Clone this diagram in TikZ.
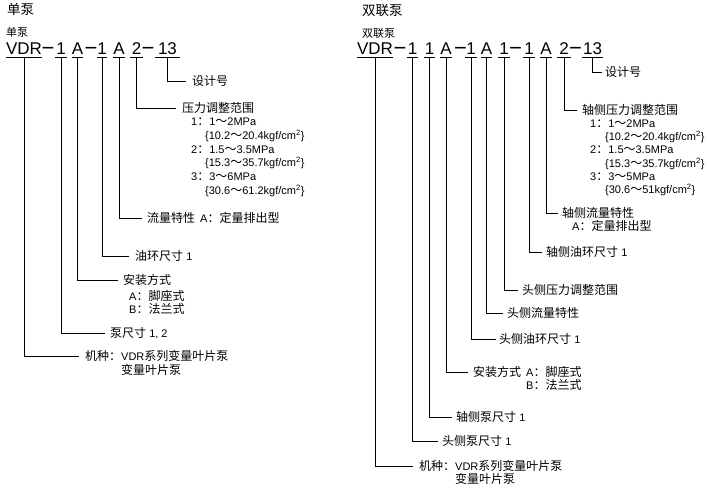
\documentclass[tikz,border=0pt]{standalone}
\usepackage{fontspec}
\setmainfont{Liberation Sans}
\newfontfamily\cjk{Noto Sans CJK SC}
\newcommand\zh[1]{{\fontsize{12}{14}\selectfont\cjk #1}}
\newcommand\zwv{{\fontsize{12}{14}\selectfont\cjk ～}}
\newcommand\zcl{{\fontsize{12}{14}\selectfont\cjk ：}}
\begin{document}
\begin{tikzpicture}[x=1pt,y=-1pt,
  fld/.style={font=\fontsize{17}{17}\selectfont, anchor=south, inner xsep=0pt, inner ysep=3pt, text height=12.2pt, text depth=0pt},
  dsh/.style={font=\fontsize{22}{22}\selectfont, anchor=base, inner sep=0pt},
  lbl/.style={font=\fontsize{11}{14}\selectfont, anchor=west, inner sep=0pt},
  ttl/.style={font=\fontsize{13.5}{14}\selectfont\cjk, anchor=west, inner sep=0pt},
  sml/.style={font=\fontsize{11}{12}\selectfont\cjk, anchor=west, inner sep=0pt},
  conn/.style={line width=0.8pt},
  uline/.style={line width=0.8pt}]
\useasboundingbox (0,0) rectangle (709,489);

% ---------------- single pump ----------------
\node[ttl] (t1) at (7,9) {单泵};
\node[sml] (s1) at (6,32) {单泵};

\node[fld, minimum width=36pt] (a0) at (24,57.5) {VDR};
\node[dsh] (ad1) at (48,55.5) {−};
\node[fld, minimum width=12pt] (a1) at (61,57.5) {1};
\node[fld, minimum width=11pt] (a2) at (77.5,57.5) {A};
\node[dsh] (ad2) at (91,55.5) {−};
\node[fld, minimum width=10pt] (a3) at (102,57.5) {1};
\node[fld, minimum width=12pt] (a4) at (119,57.5) {A};
\node[fld, minimum width=13pt] (a5) at (136.5,57.5) {2};
\node[dsh] (ad3) at (148,55.5) {−};
\node[fld, minimum width=25pt] (a6) at (167.5,57.5) {13};
\foreach \n in {a0,a1,a2,a3,a4,a5,a6}
  \draw[uline] (\n.south west) -- (\n.south east);

\node[lbl] (la6) at (192,81) {\zh{设计号}};
\node[lbl] (la5) at (182,108) {\zh{压力调整范围}};
\node[lbl] (la5a) at (191,121.8) {1\zcl 1\zwv 2MPa};
\node[lbl] (la5b) at (205,135.6) {\{10.2\zwv 20.4kgf/cm\textsuperscript{2}\}};
\node[lbl] (la5c) at (191,149.4) {2\zcl 1.5\zwv 3.5MPa};
\node[lbl] (la5d) at (205,163.2) {\{15.3\zwv 35.7kgf/cm\textsuperscript{2}\}};
\node[lbl] (la5e) at (191,177) {3\zcl 3\zwv 6MPa};
\node[lbl] (la5f) at (205,190.8) {\{30.6\zwv 61.2kgf/cm\textsuperscript{2}\}};
\node[lbl] (la4) at (147,218) {\zh{流量特性}\hspace{5pt}A\zcl\zh{定量排出型}};
\node[lbl] (la3) at (135,256) {\zh{油环尺寸} 1};
\node[lbl] (la2) at (123,280) {\zh{安装方式}};
\node[lbl] (la2a) at (129,296) {A\zcl\zh{脚座式}};
\node[lbl] (la2b) at (129,308.5) {B\zcl\zh{法兰式}};
\node[lbl] (la1) at (110,333) {\zh{泵尺寸} 1, 2};
\node[lbl] (la0) at (85,356) {\zh{机种}\zcl VDR\zh{系列变量叶片泵}};
\node[lbl] (la0a) at (121,370) {\zh{变量叶片泵}};

\draw[conn] (a6.south) |- ([xshift=-6pt]la6.west);
\draw[conn] (a5.south) |- ([xshift=-6pt]la5.west);
\draw[conn] (a4.south) |- ([xshift=-5pt]la4.west);
\draw[conn] (a3.south) |- ([xshift=-6pt]la3.west);
\draw[conn] (a2.south) |- ([xshift=-5pt]la2.west);
\draw[conn] (a1.south) |- ([xshift=-5pt]la1.west);
\draw[conn] (a0.south) |- ([xshift=-6pt]la0.west);

% ---------------- double pump ----------------
\node[ttl] (t2) at (362,10.5) {双联泵};
\node[sml] (s2) at (362,33) {双联泵};

\node[fld, minimum width=36pt] (b0) at (375,57.5) {VDR};
\node[dsh] (bd1) at (400,55.5) {−};
\node[fld, minimum width=11pt] (b1) at (412.5,57.5) {1};
\node[fld, minimum width=11pt] (b2) at (429.5,57.5) {1};
\node[fld, minimum width=12pt] (b3) at (446,57.5) {A};
\node[dsh] (bd2) at (460.5,55.5) {−};
\node[fld, minimum width=12pt] (b4) at (471,57.5) {1};
\node[fld, minimum width=11pt] (b5) at (486.5,57.5) {A};
\node[fld, minimum width=12pt] (b6) at (504,57.5) {1};
\node[dsh] (bd3) at (515.5,55.5) {−};
\node[fld, minimum width=12pt] (b7) at (529,57.5) {1};
\node[fld, minimum width=12pt] (b8) at (546,57.5) {A};
\node[fld, minimum width=14pt] (b9) at (564,57.5) {2};
\node[dsh] (bd4) at (575.5,55.5) {−};
\node[fld, minimum width=21pt] (b10) at (592.5,57.5) {13};
\foreach \n in {b0,b1,b2,b3,b4,b5,b6,b7,b8,b9,b10}
  \draw[uline] (\n.south west) -- (\n.south east);

\node[lbl] (lb10) at (605,72) {\zh{设计号}};
\node[lbl] (lb9) at (582,110) {\zh{轴侧压力调整范围}};
\node[lbl] (lb9a) at (590,123.4) {1\zcl 1\zwv 2MPa};
\node[lbl] (lb9b) at (605,136.8) {\{10.2\zwv 20.4kgf/cm\textsuperscript{2}\}};
\node[lbl] (lb9c) at (590,150.1) {2\zcl 1.5\zwv 3.5MPa};
\node[lbl] (lb9d) at (605,163.5) {\{15.3\zwv 35.7kgf/cm\textsuperscript{2}\}};
\node[lbl] (lb9e) at (590,176.9) {3\zcl 3\zwv 5MPa};
\node[lbl] (lb9f) at (605,190.3) {\{30.6\zwv 51kgf/cm\textsuperscript{2}\}};
\node[lbl] (lb8) at (562,213) {\zh{轴侧流量特性}};
\node[lbl] (lb8a) at (572,226) {A\zcl\zh{定量排出型}};
\node[lbl] (lb7) at (546,252) {\zh{轴侧油环尺寸} 1};
\node[lbl] (lb6) at (522,290) {\zh{头侧压力调整范围}};
\node[lbl] (lb5) at (507,313) {\zh{头侧流量特性}};
\node[lbl] (lb4) at (499,339) {\zh{头侧油环尺寸} 1};
\node[lbl] (lb3) at (473,372) {\zh{安装方式}\hspace{5pt}A\zcl\zh{脚座式}};
\node[lbl] (lb3a) at (526,385) {B\zcl\zh{法兰式}};
\node[lbl] (lb2) at (456,417) {\zh{轴侧泵尺寸} 1};
\node[lbl] (lb1) at (442,441) {\zh{头侧泵尺寸} 1};
\node[lbl] (lb0) at (419,466) {\zh{机种}\zcl VDR\zh{系列变量叶片泵}};
\node[lbl] (lb0a) at (455,479) {\zh{变量叶片泵}};

\draw[conn] (b10.south) |- ([xshift=-3pt]lb10.west);
\draw[conn] (b9.south) |- ([xshift=-5pt]lb9.west);
\draw[conn] (b8.south) |- ([xshift=-4pt]lb8.west);
\draw[conn] (b7.south) |- ([xshift=-4pt]lb7.west);
\draw[conn] (b6.south) |- ([xshift=-4pt]lb6.west);
\draw[conn] (b5.south) |- ([xshift=-4pt]lb5.west);
\draw[conn] (b4.south) |- ([xshift=-3pt]lb4.west);
\draw[conn] (b3.south) |- ([xshift=-5pt]lb3.west);
\draw[conn] (b2.south) |- ([xshift=-4pt]lb2.west);
\draw[conn] (b1.south) |- ([xshift=-4pt]lb1.west);
\draw[conn] (b0.south) |- ([xshift=-6pt]lb0.west);
\end{tikzpicture}
\end{document}
